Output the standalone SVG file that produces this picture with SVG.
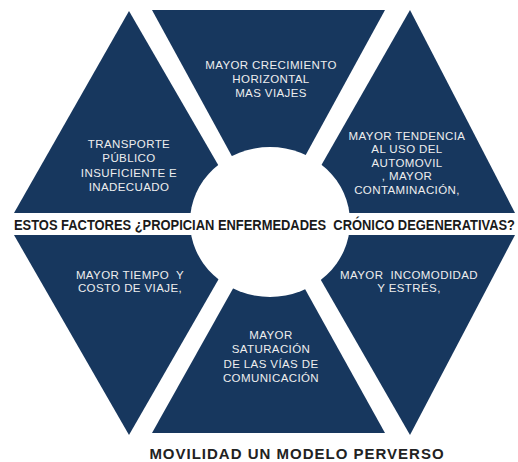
<svg xmlns="http://www.w3.org/2000/svg" width="518" height="462" viewBox="0 0 518 462">
  <style>
    .seg { fill: #17375E; }
    .lbl { font-family: "Liberation Sans", Arial, sans-serif; font-size: 11.5px; fill: #eeeeee; text-anchor: middle; letter-spacing: 0.4px; }
    .band { font-family: "Liberation Sans", Arial, sans-serif; font-size: 12.75px; font-weight: bold; fill: #1a1a1a; }
    .cap { font-family: "Liberation Sans", Arial, sans-serif; font-size: 15px; font-weight: bold; fill: #222222; text-anchor: middle; letter-spacing: 1px; }
  </style>
  <rect width="518" height="462" fill="#ffffff"/>
  <g id="seg-transporte">
    <polygon class="seg" points="129,11 14,213 246,213"/>
    <text class="lbl"><tspan x="129" y="148">TRANSPORTE</tspan><tspan x="129" y="162">PÚBLICO</tspan><tspan x="129" y="177">INSUFICIENTE E</tspan><tspan x="129" y="191">INADECUADO</tspan></text>
  </g>
  <g id="seg-crecimiento">
    <polygon class="seg" points="152,10 385,10 274,213 263,213"/>
    <text class="lbl"><tspan x="271" y="69">MAYOR CRECIMIENTO</tspan><tspan x="271" y="83">HORIZONTAL</tspan><tspan x="271" y="97">MAS VIAJES</tspan></text>
  </g>
  <g id="seg-automovil">
    <polygon class="seg" points="410,10 515,213 294,213"/>
    <text class="lbl"><tspan x="407" y="140">MAYOR TENDENCIA</tspan><tspan x="407" y="153">AL USO DEL</tspan><tspan x="407" y="167">AUTOMOVIL</tspan><tspan x="407" y="180">, MAYOR</tspan><tspan x="407" y="194">CONTAMINACIÓN,</tspan></text>
  </g>
  <g id="seg-tiempo">
    <polygon class="seg" points="129,435 14,235 244,235"/>
    <text class="lbl" xml:space="preserve"><tspan x="130" y="279">MAYOR TIEMPO  Y</tspan><tspan x="130" y="292">COSTO DE VIAJE,</tspan></text>
  </g>
  <g id="seg-saturacion">
    <polygon class="seg" points="152,433 385,433 275,235 263,235"/>
    <text class="lbl"><tspan x="271" y="339">MAYOR</tspan><tspan x="271" y="353">SATURACIÓN</tspan><tspan x="271" y="368">DE LAS VÍAS DE</tspan><tspan x="271" y="382">COMUNICACIÓN</tspan></text>
  </g>
  <g id="seg-incomodidad">
    <polygon class="seg" points="410,435 515,235 295,235"/>
    <text class="lbl" xml:space="preserve"><tspan x="409" y="279">MAYOR  INCOMODIDAD</tspan><tspan x="409" y="292">Y ESTRÉS,</tspan></text>
  </g>
  <g id="connectors"/>
  <g id="center">
    <ellipse cx="270" cy="222" rx="80" ry="75" fill="#ffffff"/>
    <text class="band" x="14" y="0" transform="translate(0,229.5) scale(1,1.12)" textLength="501" lengthAdjust="spacingAndGlyphs" xml:space="preserve">ESTOS FACTORES ¿PROPICIAN ENFERMEDADES  CRÓNICO DEGENERATIVAS?</text>
  </g>
  <g id="caption">
    <text class="cap" x="297" y="459">MOVILIDAD UN MODELO PERVERSO</text>
  </g>
</svg>
